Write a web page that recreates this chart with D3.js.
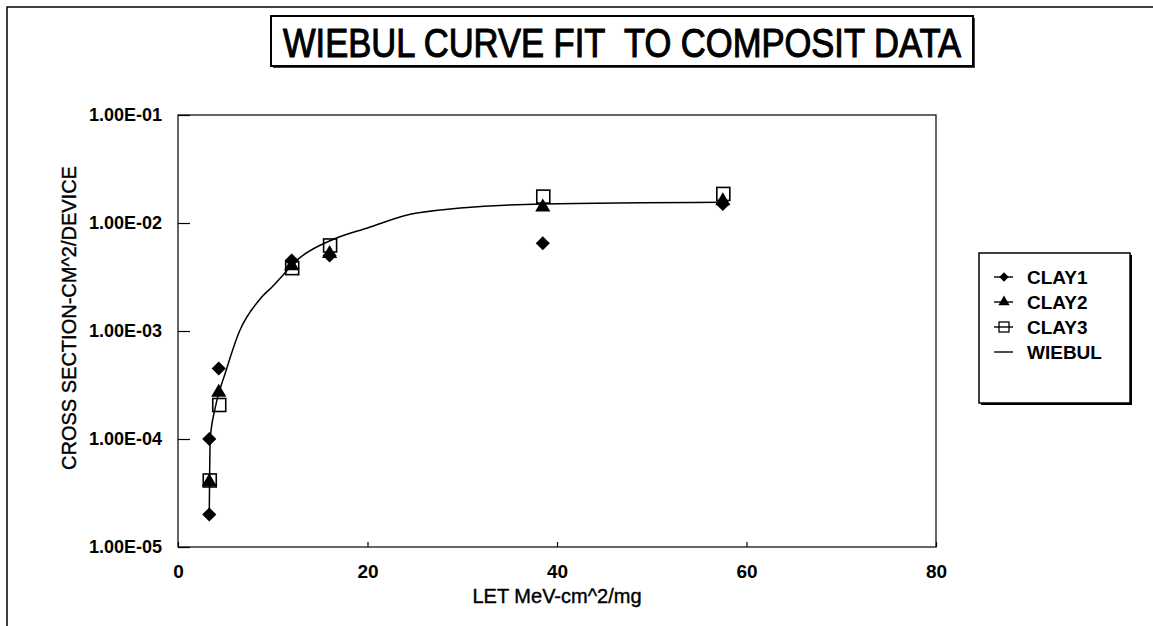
<!DOCTYPE html>
<html>
<head>
<meta charset="utf-8">
<script src="https://cdn.jsdelivr.net/npm/d3@7"></script>
<style>
  body { margin: 0; background: #fff; }
  text { font-family: "Liberation Sans", Arial, sans-serif; fill: #000; }
</style>
</head>
<body>
<div id="chart"></div>
<script>
const xTicks = [0, 20, 40, 60, 80];
const yTicks = [1e-5, 1e-4, 1e-3, 1e-2, 1e-1];
const yTickLabels = ["1.00E-05", "1.00E-04", "1.00E-03", "1.00E-02", "1.00E-01"];

const clay1 = [[3.3, 2e-5], [3.3, 1e-4], [4.3, 4.5e-4], [12, 4.5e-3], [16, 5e-3], [38.5, 6.5e-3], [57.5, 1.5e-2]];
const clay2 = [[3.3, 4e-5], [4.3, 2.7e-4], [12, 4e-3], [16, 5.2e-3], [38.5, 1.4e-2], [57.5, 1.6e-2]];
const clay3 = [[3.3, 4e-5], [4.3, 2e-4], [12, 3.7e-3], [16, 6e-3], [38.5, 1.7e-2], [57.5, 1.8e-2]];
const wiebul = [[3.3, 2e-5], [3.4, 1e-4], [3.9, 1.9e-4], [5, 4.1e-4], [6.5, 1e-3], [8.6, 1.95e-3], [10, 2.6e-3],
  [12.9, 4.8e-3], [16.3, 7e-3], [20, 9e-3], [25.2, 1.24e-2], [38.5, 1.5e-2], [57.5, 1.56e-2]];

const width = 1153, height = 626;
const margin = { top: 115, right: 216, bottom: 79, left: 178 };

const svg = d3.select("#chart").append("svg")
  .attr("width", width).attr("height", height);

// outer frame (top and left edges visible)
svg.append("path")
  .attr("d", `M7,${height} V7 H${width}`)
  .attr("fill", "none").attr("stroke", "#000").attr("stroke-width", 1.5);

// title
svg.append("rect")
  .attr("x", 271).attr("y", 16).attr("width", 702).attr("height", 50)
  .attr("fill", "none").attr("stroke", "#000").attr("stroke-width", 2);
svg.append("path")
  .attr("d", "M974,18 V67 H273")
  .attr("fill", "none").attr("stroke", "#000").attr("stroke-width", 1.5);
svg.append("text")
  .attr("x", 622).attr("y", 57)
  .attr("text-anchor", "middle")
  .style("font-family", "'Liberation Sans Narrow', 'Arial Narrow', 'Liberation Sans', sans-serif")
  .style("font-size", "40px")
  .attr("stroke", "#000").attr("stroke-width", 1.1)
  .attr("textLength", 678).attr("lengthAdjust", "spacingAndGlyphs")
  .text("WIEBUL CURVE FIT\u00a0 TO COMPOSIT DATA");

const x = d3.scaleLinear().domain([0, 80]).range([margin.left, width - margin.right - 1]);
const y = d3.scaleLog().domain([1e-5, 1e-1]).range([height - margin.bottom, margin.top]);

// plot box
svg.append("rect")
  .attr("x", x(0)).attr("y", y(1e-1))
  .attr("width", x(80) - x(0)).attr("height", y(1e-5) - y(1e-1))
  .attr("fill", "none").attr("stroke", "#000").attr("stroke-width", 1.2);

// x axis
const xAxis = svg.append("g")
  .attr("transform", `translate(0,${y(1e-5)})`)
  .call(d3.axisBottom(x).tickValues(xTicks).tickSize(-5).tickPadding(18).tickFormat(d3.format("d")));
xAxis.select(".domain").remove();
xAxis.selectAll(".tick line").attr("stroke", "#000").attr("stroke-width", 1.2);
xAxis.selectAll(".tick text")
  .style("font-size", "19px").style("font-weight", "bold")
  .style("font-family", "'Liberation Sans', Arial, sans-serif");

// y axis
const yAxis = svg.append("g")
  .attr("transform", `translate(${x(0)},0)`)
  .call(d3.axisLeft(y).tickValues(yTicks).tickSize(-12).tickPadding(16)
    .tickFormat((d, i) => yTickLabels[i]));
yAxis.select(".domain").remove();
yAxis.selectAll(".tick line").attr("stroke", "#000").attr("stroke-width", 1.2);
yAxis.selectAll(".tick text")
  .style("font-size", "18px").style("font-weight", "bold")
  .style("font-family", "'Liberation Sans', Arial, sans-serif");

// axis titles
svg.append("text")
  .attr("x", 557).attr("y", 603)
  .attr("text-anchor", "middle")
  .style("font-size", "20px")
  .attr("stroke", "#000").attr("stroke-width", 0.4)
  .text("LET MeV-cm^2/mg");
svg.append("text")
  .attr("transform", `translate(76,${(y(1e-5) + y(1e-1)) / 2 - 13}) rotate(-90)`)
  .attr("text-anchor", "middle")
  .style("font-size", "20px")
  .attr("stroke", "#000").attr("stroke-width", 0.4)
  .text("CROSS SECTION-CM^2/DEVICE");

// fitted curve
const line = d3.line().x((d) => x(d[0])).y((d) => y(d[1])).curve(d3.curveMonotoneX);
svg.append("path")
  .datum(wiebul)
  .attr("d", line)
  .attr("fill", "none").attr("stroke", "#000").attr("stroke-width", 1.5);

// markers
const diamond = d3.symbol().type(d3.symbolSquare).size(100);
const triangle = d3.symbol().type(d3.symbolTriangle).size(100);

svg.append("g").selectAll("path")
  .data(clay1).join("path")
  .attr("transform", (d) => `translate(${x(d[0])},${y(d[1])}) rotate(45)`)
  .attr("d", diamond).attr("fill", "#000");

svg.append("g").selectAll("path")
  .data(clay2).join("path")
  .attr("transform", (d) => `translate(${x(d[0])},${y(d[1])})`)
  .attr("d", triangle).attr("fill", "#000");

svg.append("g").selectAll("rect")
  .data(clay3).join("rect")
  .attr("x", (d) => x(d[0]) - 6).attr("y", (d) => y(d[1]) - 8)
  .attr("width", 13).attr("height", 13)
  .attr("fill", "none").attr("stroke", "#000").attr("stroke-width", 1.6);

// legend
const legend = svg.append("g");
legend.append("rect")
  .attr("x", 979).attr("y", 253).attr("width", 151).attr("height", 150)
  .attr("fill", "#fff").attr("stroke", "#000").attr("stroke-width", 1.5);
legend.append("path")
  .attr("d", "M1131,255 V404 H981")
  .attr("fill", "none").attr("stroke", "#000").attr("stroke-width", 2);

const legendItems = ["CLAY1", "CLAY2", "CLAY3", "WIEBUL"];
legendItems.forEach((name, i) => {
  const ly = 277 + i * 25;
  const g = legend.append("g").attr("transform", `translate(1004,${ly})`);
  g.append("line").attr("x1", -10).attr("x2", 9).attr("y1", 0).attr("y2", 0)
    .attr("stroke", "#000").attr("stroke-width", 1.4);
  if (i === 0) g.append("path").attr("d", d3.symbol().type(d3.symbolSquare).size(45))
    .attr("transform", "rotate(45)").attr("fill", "#000");
  if (i === 1) g.append("path").attr("d", d3.symbol().type(d3.symbolTriangle).size(55)).attr("fill", "#000");
  if (i === 2) g.append("rect").attr("x", -5).attr("y", -5).attr("width", 10).attr("height", 10)
    .attr("fill", "none").attr("stroke", "#000").attr("stroke-width", 1.3);
  g.append("text")
    .attr("x", 23).attr("y", 7)
    .style("font-size", "19px").style("font-weight", "bold")
    .text(name);
});
</script>
</body>
</html>
